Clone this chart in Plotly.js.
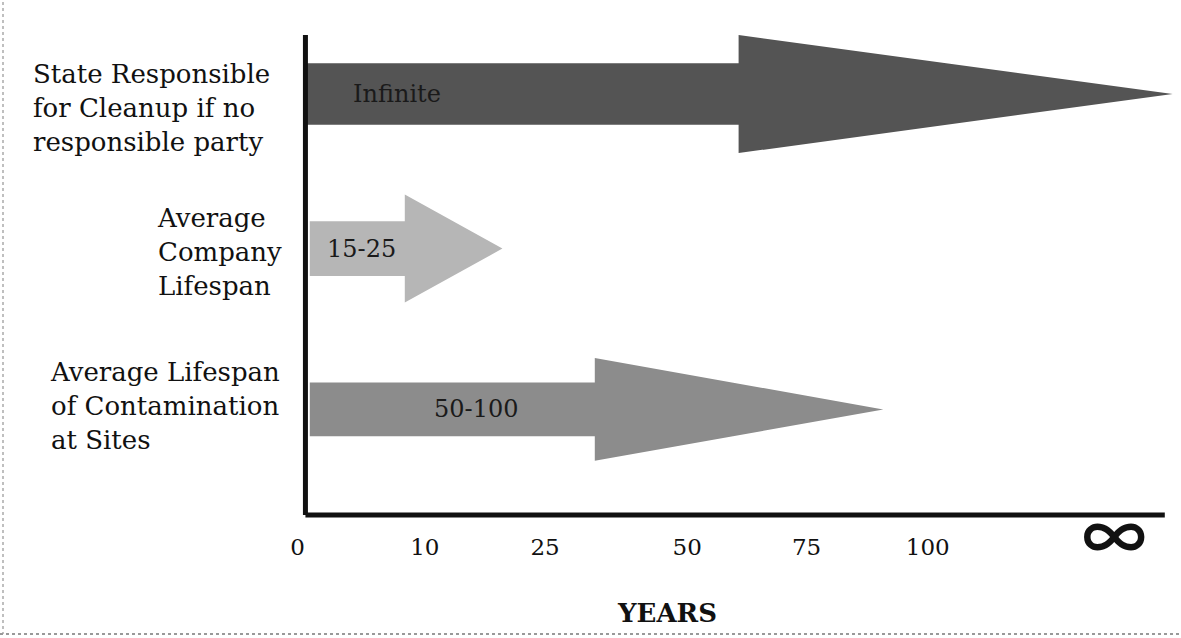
<!DOCTYPE html>
<html>
<head>
<meta charset="utf-8">
<script src="https://cdn.plot.ly/plotly-3.0.1.min.js"></script>
<style>html,body{margin:0;padding:0;background:#fff;}#chart{width:1181px;height:638px;}</style>
</head>
<body>
<div id="chart"></div>
<script>
// ---- data ----
const categories = [
  'State Responsible<br>for Cleanup if no<br>responsible party',
  'Average<br>Company<br>Lifespan',
  'Average Lifespan<br>of Contamination<br>at Sites'
];
const durationLabels = ['Infinite', '15-25', '50-100'];
const tickLabels = ['0', '10', '25', '50', '75', '100', '∞'];

// ---- positions / sizes (axis units) ----
const tickPositions = [-0.9, 13.7, 27.5, 43.8, 57.5, 71.4, 92.8];
const rowY = [87.7, 55.5, 22.0];
const arrowStart = [0, 0.5, 0.5];
const arrowHeadBase = [49.7, 11.4, 33.2];
const arrowTip = [99.5, 22.6, 66.3];
const shaftHalf = [6.4, 5.7, 5.6];
const headHalf = [12.3, 11.25, 10.7];
const labelX = [10.5, 6.4, 19.6];
const arrowColors = ['#545454', '#b6b6b6', '#8c8c8c'];

// plot area in pixels
const L = 288, R = 1177, T = 35, B = 515;
const W = 1181, H = 638;
const pxX = p => (p - L) / (R - L);
const pxY = p => (B - p) / (B - T);

const serif = 'DejaVu Serif, Liberation Serif, serif';

const traces = categories.map((c, i) => {
  const s = arrowStart[i], hb = arrowHeadBase[i], tp = arrowTip[i];
  const y = rowY[i], sh = shaftHalf[i], hh = headHalf[i];
  return {
    type: 'scatter', mode: 'lines', fill: 'toself',
    x: [s, hb, hb, tp, hb, hb, s, s],
    y: [y + sh, y + sh, y + hh, y, y - hh, y - sh, y - sh, y + sh],
    fillcolor: arrowColors[i],
    line: {width: 0, color: arrowColors[i]},
    hoverinfo: 'skip', showlegend: false
  };
});

const catLeftPx = [31, 155, 48];
const catShift = [-13.5, -3.5, 3];
const annotations = [];
categories.forEach((c, i) => {
  annotations.push({
    text: c, xref: 'paper', yref: 'y', x: pxX(catLeftPx[i]), y: rowY[i],
    xanchor: 'left', yanchor: 'middle', align: 'left', showarrow: false,
    yshift: catShift[i],
    font: {family: serif, size: 26, color: '#111'}
  });
  annotations.push({
    text: durationLabels[i], xref: 'x', yref: 'y', x: labelX[i], y: rowY[i],
    xanchor: 'center', yanchor: 'middle', showarrow: false,
    font: {family: serif, size: 24, color: '#1a1a1a'}
  });
});
annotations.push({
  text: '<b>YEARS</b>', xref: 'paper', yref: 'paper', x: pxX(667), y: pxY(613),
  xanchor: 'center', yanchor: 'middle', showarrow: false,
  font: {family: serif, size: 26, color: '#111'}
});

const shapes = [
  {type: 'line', xref: 'x', yref: 'paper', x0: 0, x1: 0, y0: 0, y1: 1,
   line: {color: '#111', width: 5}, layer: 'above'},
  {type: 'line', xref: 'x', yref: 'paper', x0: 0, x1: 98.6, y0: 0, y1: 0,
   line: {color: '#111', width: 5}, layer: 'above'},
  {type: 'line', xref: 'paper', yref: 'paper', x0: pxX(3), x1: pxX(3), y0: pxY(2), y1: pxY(634),
   line: {color: '#aaa', width: 1.5, dash: 'dot'}},
  {type: 'line', xref: 'paper', yref: 'paper', x0: pxX(0), x1: pxX(1181), y0: pxY(634), y1: pxY(634),
   line: {color: '#999', width: 2, dash: 'dot'}}
];

const tickText = tickLabels.map(t => t === '∞'
  ? '<span style="font-family:Noto Sans CJK JP;font-size:64px;font-weight:bold;baseline-shift:-6px">∞</span>' : t);

const layout = {
  width: W, height: H,
  margin: {l: L, r: W - R, t: T, b: H - B, pad: 0},
  paper_bgcolor: '#fff', plot_bgcolor: '#fff',
  xaxis: {
    range: [-2, 100], showgrid: false, zeroline: false, showline: false,
    ticks: '', tickmode: 'array', tickvals: tickPositions, ticktext: tickText,
    ticklabelstandoff: 16,
    tickfont: {family: serif, size: 23, color: '#111'}, fixedrange: true
  },
  yaxis: {
    range: [0, 100], showgrid: false, zeroline: false, showline: false,
    showticklabels: false, ticks: '', fixedrange: true
  },
  annotations: annotations,
  shapes: shapes,
  showlegend: false
};

Plotly.newPlot('chart', traces, layout, {staticPlot: true, displayModeBar: false});
</script>
</body>
</html>
